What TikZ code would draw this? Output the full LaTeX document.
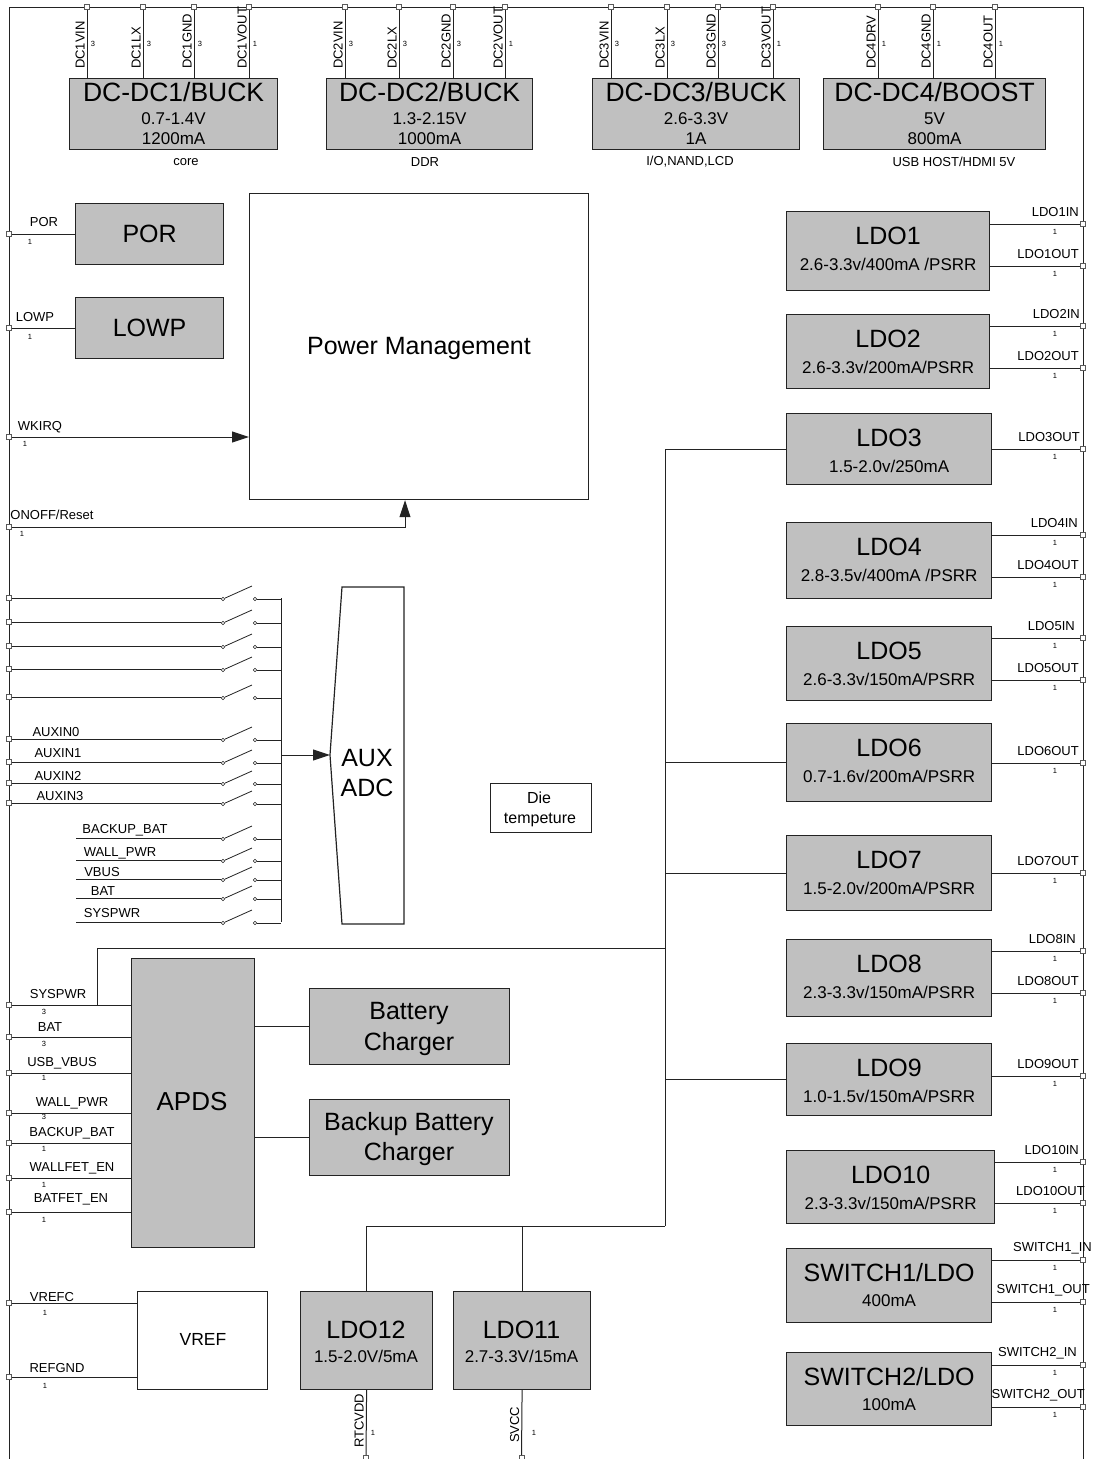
\documentclass[tikz,border=0pt]{standalone}
\usepackage{fontspec}
\setmainfont{Liberation Sans}
\usetikzlibrary{arrows.meta,calc}
\definecolor{boxgray}{RGB}{192,192,192}
\definecolor{linec}{RGB}{35,35,35}
\definecolor{pinc}{RGB}{90,90,90}
\newcommand\myfs[1]{\fontsize{#1}{#1}\selectfont}
\tikzset{
 gbox/.style={draw=linec, fill=boxgray, line width=1.2pt, inner sep=0pt, anchor=north west},
 wbox/.style={draw=linec, fill=white, line width=1.2pt, inner sep=0pt, anchor=north west},
 wire/.style={draw=linec, line width=1pt},
 pinsq/.style={rectangle, draw=pinc, fill=white, line width=0.8pt, minimum size=5pt, inner sep=0pt},
 cont/.style={circle, draw=linec, fill=white, line width=0.6pt, minimum size=3.6pt, inner sep=0pt},
 lbl/.style={font=\myfs{13}, inner sep=0pt},
 numtxt/.style={font=\myfs{7.5}, inner sep=0pt},
 ttl/.style={font=\myfs{25}, inner sep=0pt},
 dcttl/.style={font=\myfs{26.5}, inner sep=0pt},
 subt/.style={font=\myfs{17}, inner sep=0pt},
 captxt/.style={font=\myfs{13}, inner sep=0pt},
 arrw/.style={-{Triangle[length=17pt,width=11pt]}},
}
\newcommand\dcbox[8]{%
 \node[gbox,minimum width=#3pt,minimum height=71pt] (#1) at (#2,78) {};
 \node[dcttl] (#1t) at ($(#1.north)+(0,14)$) {#4};
 \node[subt] (#1a) at ($(#1.north)+(0,41)$) {#5};
 \node[subt] (#1b) at ($(#1.north)+(0,61)$) {#6};
 \node[captxt] (#1c) at (#7,162) {#8};}
\newcommand\ldobox[6]{%
 \node[gbox,minimum width=#3pt,minimum height=#4pt] (#1) at (786,#2) {};
 \node[ttl] (#1t) at ($(#1.north)+(0,25)$) {#5};
 \node[subt] (#1s) at ($(#1.north)+(0,53)$) {#6};}
\newcommand\rpin[5]{%
 \node[pinsq] (#1) at (1083,#2) {};
 \draw[wire] (#5.east |- #1) -- (#1);
 \node[lbl, anchor=east] (#1l) at (#4,#2-12) {#3};
 \node[numtxt] (#1n) at (1055,#2+8) {1};}
\begin{document}
\begin{tikzpicture}[x=1pt,y=-1pt]
\useasboundingbox (0,0) rectangle (1093,1459);
% frame
\coordinate (cBL) at (9,1459);
\coordinate (cTL) at (9,7);
\coordinate (cTR) at (1083,7);
\coordinate (cBR) at (1083,1459);
\draw[wire] (cBL) -- (cTL) -- (cTR) -- (cBR);

% DC-DC boxes
\dcbox{dc1}{69}{208}{DC-DC1/BUCK}{0.7-1.4V}{1200mA}{186}{core}
\dcbox{dc2}{326}{206}{DC-DC2/BUCK}{1.3-2.15V}{1000mA}{425}{DDR}
\dcbox{dc3}{592}{207}{DC-DC3/BUCK}{2.6-3.3V}{1A}{690}{I/O,NAND,LCD}
\dcbox{dc4}{823}{222}{DC-DC4/BOOST}{5V}{800mA}{954}{USB HOST/HDMI 5V}

\foreach \bx/\px/\lab/\pn in {dc1/87/DC1VIN/3, dc1/143/DC1LX/3, dc1/194/DC1GND/3, dc1/249/DC1VOUT/1,
  dc2/345/DC2VIN/3, dc2/399/DC2LX/3, dc2/453/DC2GND/3, dc2/505/DC2VOUT/1,
  dc3/611/DC3VIN/3, dc3/667/DC3LX/3, dc3/718/DC3GND/3, dc3/773/DC3VOUT/1,
  dc4/878/DC4DRV/1, dc4/933/DC4GND/1, dc4/995/DC4OUT/1}{
 \node[pinsq] (tp\lab) at (\px,7) {};
 \draw[wire] (tp\lab) -- (tp\lab |- \bx.north);
 \node[lbl, rotate=90, anchor=south west] (tl\lab) at (\px-2,69) {\lab};
 \node[numtxt] (tn\lab) at (\px+6,44) {\pn};
}

% POR / LOWP / Power Management
\node[gbox,minimum width=148pt,minimum height=61pt] (por) at (75,203) {};
\node[ttl] (port) at (por.center) {POR};
\node[gbox,minimum width=148pt,minimum height=61pt] (lowp) at (75,297) {};
\node[ttl] (lowpt) at (lowp.center) {LOWP};
\node[wbox,minimum width=339pt,minimum height=306pt] (pm) at (249,193) {};
\node[font=\myfs{25}, inner sep=0pt, anchor=base] (pmt) at (419,354) {Power Management};

\node[pinsq] (pPOR) at (9,234) {};
\draw[wire] (pPOR) -- (pPOR -| por.west);
\node[lbl] (pPORl) at (44,222) {POR};
\node[numtxt] (pPORn) at (30,242) {1};

\node[pinsq] (pLOWP) at (9,328) {};
\draw[wire] (pLOWP) -- (pLOWP -| lowp.west);
\node[lbl] (pLOWPl) at (35,317) {LOWP};
\node[numtxt] (pLOWPn) at (30,337) {1};

\node[pinsq] (pWK) at (9,437) {};
\draw[wire,arrw] (pWK) -- (pWK -| pm.west);
\node[lbl] (pWKl) at (40,427) {WKIRQ};
\node[numtxt] (pWKn) at (25,444) {1};

\node[pinsq] (pON) at (9,527) {};
\coordinate (onk) at (405,527);
\draw[wire,arrw] (pON) -- (onk) -- (onk |- pm.south);
\node[lbl] (pONl) at (52,515) {ONOFF/Reset};
\node[numtxt] (pONn) at (22,534) {1};

% AUX ADC switches
\coordinate (sbus) at (281,598);
\coordinate (sbusb) at (281,922);
\draw[wire] (sbus) -- (sbusb);
\foreach \yy [count=\i] in {598,622,646,669,697,739,762,783,803,838,860,879,898,922}{
 \node[cont] (sa\i) at (223,\yy+1) {};
 \node[cont] (sb\i) at (255,\yy+1) {};
 \coordinate (sk\i) at (252,\yy-12);
 \draw[wire,line width=0.8pt] (sa\i) -- (sk\i);
 \draw[wire] (sb\i) -- (sb\i -| sbus);
}
\foreach \yy [count=\i] in {598,622,646,669,697,739,762,783,803}{
 \node[pinsq] (sp\i) at (9,\yy) {};
 \draw[wire] (sp\i) -- (sp\i -| sa\i.west);
}
\foreach \yy [count=\i from 10] in {838,860,879,898,922}{
 \coordinate (sl\i) at (76,\yy);
 \draw[wire] (sl\i) -- (sl\i -| sa\i.west);
}
\node[lbl] (ax0) at (56,732) {AUXIN0};
\node[lbl] (ax1) at (58,753) {AUXIN1};
\node[lbl] (ax2) at (58,776) {AUXIN2};
\node[lbl] (ax3) at (60,796) {AUXIN3};
\node[lbl] (axb) at (125,830) {BACKUP\_BAT};
\node[lbl] (axw) at (120,853) {WALL\_PWR};
\node[lbl] (axv) at (102,872) {VBUS};
\node[lbl] (axt) at (103,891) {BAT};
\node[lbl] (axs) at (112,913) {SYSPWR};

\draw[linec, line width=1.2pt, fill=white] (342,587) -- (404,587) -- (404,924) -- (342,924) -- (330,755) -- cycle;
\coordinate (sbm) at (281,755);
\coordinate (adcL) at (330,755);
\draw[wire,arrw] (sbm) -- (adcL);
\node[ttl] (aux1) at (367,758) {AUX};
\node[ttl] (aux2) at (367,788) {ADC};

% Die temperature
\node[wbox,minimum width=101pt,minimum height=49pt] (die) at (490,783) {};
\node[font=\myfs{16}, inner sep=0pt, anchor=base] (die1) at (539,803) {Die};
\node[font=\myfs{16}, inner sep=0pt, anchor=base] (die2) at (540,823) {tempeture};

% APDS
\node[gbox,minimum width=123pt,minimum height=289pt] (apds) at (131,958) {};
\node[font=\myfs{26}, inner sep=0pt] (apdst) at (192,1102) {APDS};
\node[gbox,minimum width=200pt,minimum height=76pt] (bc) at (309,988) {};
\node[font=\myfs{25}, inner sep=0pt, anchor=base] (bc1) at (409,1019) {Battery};
\node[font=\myfs{25}, inner sep=0pt, anchor=base] (bc2) at (409,1050) {Charger};
\node[gbox,minimum width=200pt,minimum height=76pt] (bbc) at (309,1099) {};
\node[font=\myfs{25}, inner sep=0pt, anchor=base] (bbc1) at (409,1130) {Backup Battery};
\node[font=\myfs{25}, inner sep=0pt, anchor=base] (bbc2) at (409,1160) {Charger};
\draw[wire] (apds.east |- bc.west) -- (bc.west);
\draw[wire] (apds.east |- bbc.west) -- (bbc.west);

\foreach \nm/\yy/\lab/\lx/\ly/\nn/\ny in {
 pSYS/1005/SYSPWR/58/994/3/1012,
 pBAT/1037/BAT/50/1027/3/1044,
 pUSB/1073/USB\_VBUS/62/1063/1/1078,
 pWALL/1113/WALL\_PWR/72/1103/3/1117,
 pBKB/1143/BACKUP\_BAT/72/1133/1/1149,
 pWFE/1178/WALLFET\_EN/72/1168/1/1185,
 pBFE/1212/BATFET\_EN/71/1199/1/1220}{
 \node[pinsq] (\nm) at (9,\yy) {};
 \draw[wire] (\nm) -- (\nm -| apds.west);
 \node[lbl] (\nm-l) at (\lx,\ly) {\lab};
 \node[numtxt] (\nm-n) at (44,\ny) {\nn};
}

% VREF
\node[wbox,minimum width=130pt,minimum height=98pt] (vref) at (137,1291) {};
\node[font=\myfs{17.5}, inner sep=0pt] (vreft) at (203,1339) {VREF};
\node[pinsq] (pVC) at (9,1303) {};
\draw[wire] (pVC) -- (pVC -| vref.west);
\node[lbl] (pVCl) at (52,1297) {VREFC};
\node[numtxt] (pVCn) at (45,1313) {1};
\node[pinsq] (pRG) at (9,1377) {};
\draw[wire] (pRG) -- (pRG -| vref.west);
\node[lbl] (pRGl) at (57,1368) {REFGND};
\node[numtxt] (pRGn) at (45,1386) {1};

% LDO12 / LDO11
\node[gbox,minimum width=132pt,minimum height=98pt] (ldo12) at (300,1291) {};
\node[ttl] (ldo12t) at (366,1330) {LDO12};
\node[subt] (ldo12s) at (366,1356) {1.5-2.0V/5mA};
\node[gbox,minimum width=137pt,minimum height=98pt] (ldo11) at (453,1291) {};
\node[ttl] (ldo11t) at (521.5,1330) {LDO11};
\node[subt] (ldo11s) at (521.5,1356) {2.7-3.3V/15mA};
\node[pinsq] (bRTC) at (366,1458) {};
\draw[wire] (ldo12.south) -- (bRTC);
\node[lbl, rotate=90, anchor=south west] (bRTCl) at (364,1448) {RTCVDD};
\node[numtxt] (bRTCn) at (373,1433) {1};
\node[pinsq] (bSV) at (521.5,1458) {};
\draw[wire] (ldo11.south) -- (bSV);
\node[lbl, rotate=90, anchor=south west] (bSVl) at (519.5,1443) {SVCC};
\node[numtxt] (bSVn) at (534,1433) {1};

% LDO boxes
\ldobox{ldo1}{211}{203}{79}{LDO1}{2.6-3.3v/400mA /PSRR}
\ldobox{ldo2}{314}{203}{74}{LDO2}{2.6-3.3v/200mA/PSRR}
\ldobox{ldo3}{413}{205}{71}{LDO3}{1.5-2.0v/250mA}
\ldobox{ldo4}{522}{205}{76}{LDO4}{2.8-3.5v/400mA /PSRR}
\ldobox{ldo5}{626}{205}{74}{LDO5}{2.6-3.3v/150mA/PSRR}
\ldobox{ldo6}{723}{205}{78}{LDO6}{0.7-1.6v/200mA/PSRR}
\ldobox{ldo7}{835}{205}{75}{LDO7}{1.5-2.0v/200mA/PSRR}
\ldobox{ldo8}{939}{205}{77}{LDO8}{2.3-3.3v/150mA/PSRR}
\ldobox{ldo9}{1043}{205}{72}{LDO9}{1.0-1.5v/150mA/PSRR}
\ldobox{ldo10}{1150}{208}{73}{LDO10}{2.3-3.3v/150mA/PSRR}
\ldobox{sw1}{1248}{205}{74}{SWITCH1/LDO}{400mA}
\ldobox{sw2}{1352}{205}{73}{SWITCH2/LDO}{100mA}

% internal supply bus
\coordinate (jb) at (665,1226);
\coordinate (ja) at (665,948);
\coordinate (jsys) at (97,1005);
\draw[wire] (ldo3.west) -| (jb);
\draw[wire] (ldo6.west) -- (ldo6.west -| jb);
\draw[wire] (ldo7.west) -- (ldo7.west -| jb);
\draw[wire] (ldo9.west) -- (ldo9.west -| jb);
\draw[wire] (ja) -| (jsys);
\draw[wire] (jb) -| (ldo12.north);
\draw[wire] (ldo11.north) |- (jb);

% right pins
\rpin{r1i}{224}{LDO1IN}{1079}{ldo1}
\rpin{r1o}{266}{LDO1OUT}{1079}{ldo1}
\rpin{r2i}{326}{LDO2IN}{1080}{ldo2}
\rpin{r2o}{368}{LDO2OUT}{1079}{ldo2}
\rpin{r3o}{449}{LDO3OUT}{1080}{ldo3}
\rpin{r4i}{535}{LDO4IN}{1078}{ldo4}
\rpin{r4o}{577}{LDO4OUT}{1079}{ldo4}
\rpin{r5i}{638}{LDO5IN}{1075}{ldo5}
\rpin{r5o}{680}{LDO5OUT}{1079}{ldo5}
\rpin{r6o}{763}{LDO6OUT}{1079}{ldo6}
\rpin{r7o}{873}{LDO7OUT}{1079}{ldo7}
\rpin{r8i}{951}{LDO8IN}{1076}{ldo8}
\rpin{r8o}{993}{LDO8OUT}{1079}{ldo8}
\rpin{r9o}{1076}{LDO9OUT}{1079}{ldo9}
\rpin{r10i}{1162}{LDO10IN}{1079}{ldo10}
\rpin{r10o}{1203}{LDO10OUT}{1085}{ldo10}
\rpin{s1i}{1260}{SWITCH1\_IN}{1092}{sw1}
\rpin{s1o}{1302}{SWITCH1\_OUT}{1090}{sw1}
\rpin{s2i}{1365}{SWITCH2\_IN}{1077}{sw2}
\rpin{s2o}{1407}{SWITCH2\_OUT}{1085}{sw2}
\end{tikzpicture}
\end{document}
